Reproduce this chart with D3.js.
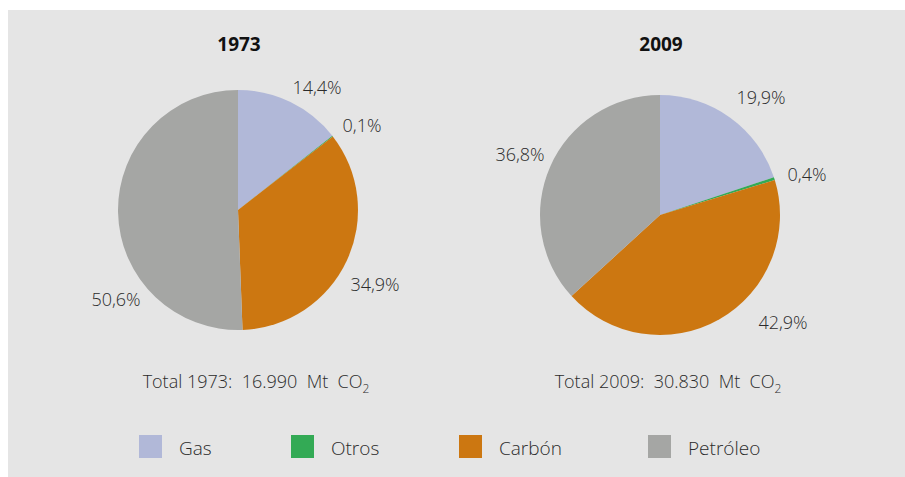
<!DOCTYPE html>
<meta charset="utf-8">
<style>
body { margin: 0; background: #fff; }
text { font-family: "Open Sans", "Noto Sans", sans-serif; fill: #2b2b2b; font-weight: 300; }
.title { font-weight: 700; font-size: 19px; fill: #111; }
.pct { font-size: 18px; }
.total { font-size: 18px; white-space: pre; }
.legend text { font-size: 19px; }
</style>
<body>
<script src="https://d3js.org/d3.v7.min.js"></script>
<script>

// data
const categories = ["Gas", "Otros", "Carbón", "Petróleo"];
const colors = ["#b1b8d8", "#33aa55", "#cc7711", "#a5a6a4"];
const years = ["1973", "2009"];
const values1973 = [14.4, 0.1, 34.9, 50.6];
const values2009 = [19.9, 0.4, 42.9, 36.8];
const totals = ["16.990", "30.830"];

const width = 905, height = 477;

const svg = d3.select("body").append("svg")
    .attr("width", width)
    .attr("height", height);

// gray panel
svg.append("rect")
    .attr("x", 8).attr("y", 10)
    .attr("width", width - 8).attr("height", height - 10)
    .attr("fill", "#e5e5e5");

const color = d3.scaleOrdinal().domain(categories).range(colors);
const fmt = v => v.toFixed(1).replace(".", ",") + "%";

const pie = d3.pie().sort(null);
const arc = d3.arc().innerRadius(0).outerRadius(120);

// label offsets from pie centre, per slice
const charts = [
  { year: years[0], values: values1973, total: totals[0], cx: 238, cy: 210, totalDx: 18,
    labelPos: [[79, -122], [124, -84], [137, 75], [-122, 90]] },
  { year: years[1], values: values2009, total: totals[1], cx: 660, cy: 215, totalDx: 8,
    labelPos: [[101, -117], [147, -40], [123, 108], [-140, -60]] }
];

charts.forEach(c => {
  svg.append("text")
      .attr("class", "title")
      .attr("x", c.cx + 1).attr("y", 51)
      .attr("text-anchor", "middle")
      .text(c.year);

  const g = svg.append("g").attr("transform", `translate(${c.cx},${c.cy})`);

  g.selectAll("path")
    .data(pie(c.values))
    .join("path")
      .attr("d", arc)
      .attr("fill", (d, i) => colors[i]);

  g.selectAll("text.pct")
    .data(c.values)
    .join("text")
      .attr("class", "pct")
      .attr("x", (d, i) => c.labelPos[i][0])
      .attr("y", (d, i) => c.labelPos[i][1])
      .attr("text-anchor", "middle")
      .attr("dy", "0.35em")
      .text(d => fmt(d));

  const t = svg.append("text")
      .attr("class", "total")
      .attr("x", c.cx + c.totalDx).attr("y", 388)
      .attr("text-anchor", "middle");
  t.append("tspan").text(`Total ${c.year}:  ${c.total}  Mt  CO`);
  t.append("tspan").attr("dy", 5).style("font-size", "12px").text("2");
});

// legend
const legendX = [139, 291, 459, 648];
const legend = svg.append("g").attr("class", "legend")
  .selectAll("g")
  .data(categories)
  .join("g")
    .attr("transform", (d, i) => `translate(${legendX[i]},435)`);

legend.append("rect")
    .attr("width", 23).attr("height", 23)
    .attr("fill", d => color(d));

legend.append("text")
    .attr("x", 40).attr("y", 20)
    .text(d => d);

</script>
</body>
